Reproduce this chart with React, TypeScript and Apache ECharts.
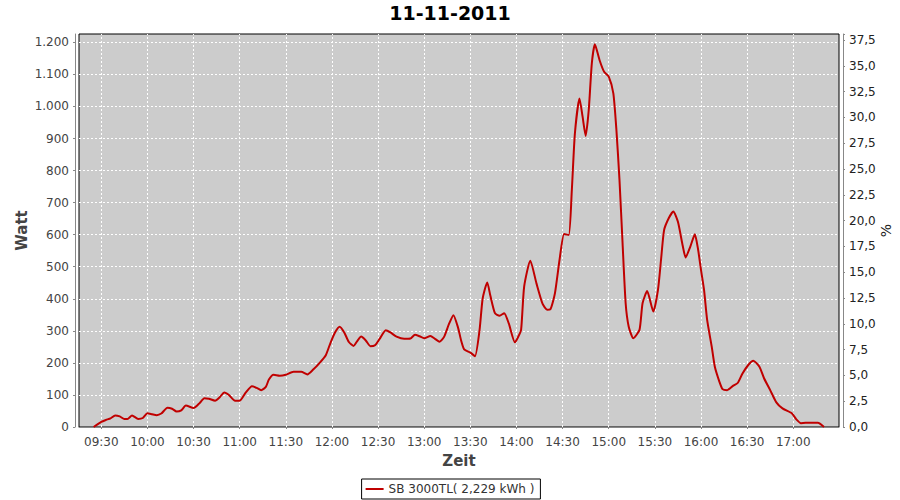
import React, { useEffect, useRef } from "react";
import * as echarts from "echarts";

const titleText = "11-11-2011";
const seriesName = "SB 3000TL( 2,229 kWh )";
const xAxisName = "Zeit";
const yLeftName = "Watt";
const yRightName = "%";

const xTickLabels = [
  "09:30", "10:00", "10:30", "11:00", "11:30", "12:00", "12:30", "13:00",
  "13:30", "14:00", "14:30", "15:00", "15:30", "16:00", "16:30", "17:00"
];
const yGridValues = [100, 200, 300, 400, 500, 600, 700, 800, 900, 1000, 1100, 1200];

// time of reading (HH:MM) and power in watts
const times = [
  "09:25", "09:30", "09:33", "09:36", "09:39", "09:42", "09:45", "09:47", "09:50", "09:54",
  "09:57", "10:00", "10:03", "10:06", "10:09", "10:13", "10:16", "10:19", "10:22", "10:25",
  "10:30", "10:34", "10:37", "10:40", "10:44", "10:47", "10:50", "10:53", "10:57", "11:00",
  "11:04", "11:08", "11:11", "11:14", "11:17", "11:19", "11:22", "11:26", "11:30", "11:35",
  "11:40", "11:44", "11:48", "11:52", "11:56", "11:59", "12:02", "12:05", "12:08", "12:11",
  "12:14", "12:17", "12:19", "12:22", "12:25", "12:28", "12:31", "12:35", "12:38", "12:42",
  "12:47", "12:51", "12:54", "12:57", "13:00", "13:04", "13:07", "13:10", "13:13", "13:16",
  "13:19", "13:22", "13:24", "13:26", "13:30", "13:33", "13:36", "13:38", "13:41", "13:43",
  "13:46", "13:49", "13:52", "13:55", "13:59", "14:01", "14:03", "14:05", "14:09", "14:13",
  "14:17", "14:20", "14:22", "14:25", "14:28", "14:31", "14:34", "14:36", "14:38", "14:41",
  "14:43", "14:45", "14:47", "14:49", "14:51", "14:54", "14:57", "15:00", "15:03", "15:05",
  "15:07", "15:09", "15:11", "15:13", "15:16", "15:20", "15:22", "15:25", "15:29", "15:32",
  "15:34", "15:36", "15:39", "15:42", "15:45", "15:48", "15:50", "15:53", "15:56", "15:58",
  "16:00", "16:02", "16:04", "16:07", "16:09", "16:12", "16:14", "16:17", "16:21", "16:24",
  "16:27", "16:31", "16:34", "16:38", "16:41", "16:45", "16:49", "16:53", "16:59", "17:02",
  "17:05", "17:08", "17:16", "17:20"
];

const watts = [
  0, 16, 22, 27, 36, 33, 25, 25, 36, 25,
  28, 43, 40, 37, 42, 60, 57, 48, 52, 67,
  59, 75, 90, 88, 82, 93, 108, 100, 82, 82,
  108, 127, 122, 115, 125, 148, 163, 160, 163, 172,
  172, 164, 180, 200, 224, 262, 295, 313, 295, 265,
  253, 272, 282, 270, 252, 255, 275, 302, 295, 282,
  275, 276, 288, 283, 277, 284, 275, 266, 282, 320,
  349, 310, 270, 242, 232, 221, 303, 400, 451, 410,
  355, 347, 355, 323, 264, 280, 303, 438, 519, 448,
  384, 366, 367, 417, 521, 602, 599, 739, 916, 1025,
  968, 908, 989, 1134, 1194, 1145, 1108, 1093, 1041, 926,
  770, 573, 386, 313, 277, 303, 386, 424, 360, 427,
  521, 614, 651, 672, 640, 568, 529, 562, 601, 557,
  490, 427, 334, 250, 188, 141, 118, 115, 129, 138,
  167, 195, 207, 188, 152, 115, 77, 58, 43, 24,
  12, 13, 13, 0
];

const xMinTime = "09:15:30";
const xMaxTime = "17:29:45";
const yLeftMax = 1226;
const yRightMax = 38.08;

const toMinutes = (s: string) => {
  const [h, m, sec] = s.split(":").map(Number);
  return h * 60 + m + (sec || 0) / 60;
};

const fmtTime = (v: number) => {
  const h = Math.floor(v / 60);
  const m = Math.round(v - h * 60);
  return `${String(h).padStart(2, "0")}:${String(m).padStart(2, "0")}`;
};

export default function App() {
  const ref = useRef<HTMLDivElement>(null);

  useEffect(() => {
    if (!ref.current) return;
    const chart = echarts.init(ref.current, undefined, { renderer: "svg" });
    const data = times.map((t, i) => [toMinutes(t), watts[i]]);
    const xTicks = xTickLabels.map(toMinutes);
    const font = "DejaVu Sans";
    const gridLineStyle = { color: "#ffffff", type: [2, 2], width: 1 };

    chart.setOption({
      animation: false,
      backgroundColor: "#ffffff",
      title: {
        text: titleText,
        left: "center",
        top: -2,
        textStyle: { fontFamily: font, fontSize: 19, fontWeight: "bold", color: "#000" },
      },
      legend: {
        bottom: 1,
        left: "center",
        data: [seriesName],
        icon: "rect",
        itemWidth: 18,
        itemHeight: 2,
        itemGap: 4,
        padding: [4, 6, 4, 4],
        borderColor: "#000",
        borderWidth: 1,
        borderRadius: 0,
        textStyle: { fontFamily: font, fontSize: 12, color: "#333" },
      },
      grid: {
        left: 79,
        right: 61,
        top: 34,
        bottom: 73,
        show: true,
        containLabel: false,
        outerBoundsMode: "none",
        backgroundColor: "#cccccc",
        borderColor: "#000",
        borderWidth: 1,
      },
      xAxis: {
        type: "value",
        min: toMinutes(xMinTime),
        max: toMinutes(xMaxTime),
        offset: 4,
        name: xAxisName,
        nameLocation: "middle",
        nameGap: 22,
        nameTextStyle: { fontFamily: font, fontSize: 15, fontWeight: "bold", color: "#444" },
        axisLine: { show: true, lineStyle: { color: "#888", width: 1 } },
        axisTick: { show: true, length: 2, customValues: xTicks, lineStyle: { color: "#888" } },
        axisLabel: {
          fontFamily: font,
          fontSize: 12,
          color: "#444",
          margin: 5,
          customValues: xTicks,
          formatter: (v: number) => fmtTime(v),
        },
        splitLine: { show: false },
      },
      yAxis: [
        {
          type: "value",
          min: 0,
          max: yLeftMax,
          interval: 100,
          offset: 4,
          position: "left",
          name: yLeftName,
          nameLocation: "middle",
          nameGap: 46,
          nameMoveOverlap: false,
          nameTextStyle: { fontFamily: font, fontSize: 15, fontWeight: "bold", color: "#444" },
          axisLine: { show: true, lineStyle: { color: "#888", width: 1 } },
          axisTick: { show: true, length: 2, customValues: [0, ...yGridValues], lineStyle: { color: "#888" } },
          axisLabel: {
            fontFamily: font,
            fontSize: 12,
            color: "#444",
            margin: 6,
            customValues: [0, ...yGridValues],
            formatter: (v: number) =>
              String(Math.round(v)).replace(/\B(?=(\d{3})+(?!\d))/g, "."),
          },
          splitLine: { show: false },
        },
        {
          type: "value",
          min: 0,
          max: yRightMax,
          interval: 2.5,
          offset: 4,
          position: "right",
          name: yRightName,
          nameLocation: "middle",
          nameGap: 36,
          nameRotate: 90,
          nameMoveOverlap: false,
          nameTextStyle: { fontFamily: font, fontSize: 14, color: "#222" },
          axisLine: { show: true, lineStyle: { color: "#888", width: 1 } },
          axisTick: { show: true, length: 2, lineStyle: { color: "#888" } },
          axisLabel: {
            fontFamily: font,
            fontSize: 12,
            color: "#222",
            margin: 6,
            formatter: (v: number) => {
              const r = Math.round(v / 2.5) * 2.5;
              if (Math.abs(r - v) > 1e-6) return "";
              return v.toFixed(1).replace(".", ",");
            },
          },
          splitLine: { show: false },
        },
      ],
      series: [
        {
          name: seriesName,
          type: "line",
          yAxisIndex: 0,
          data,
          symbol: "none",
          smooth: 0.2,
          z: 10,
          lineStyle: { color: "#c00000", width: 2 },
          itemStyle: { color: "#c00000" },
          markLine: {
            silent: true,
            z: 3,
            symbol: ["none", "none"],
            label: { show: false },
            emphasis: { disabled: true },
            lineStyle: gridLineStyle,
            data: [
              ...xTicks.map((v) => ({ xAxis: v })),
              ...yGridValues.map((v) => ({ yAxis: v })),
            ],
          },
        },
      ],
    });

    return () => chart.dispose();
  }, []);

  return <div ref={ref} style={{ width: 900, height: 500, position: "absolute", left: 0, top: 0 }} />;
}
